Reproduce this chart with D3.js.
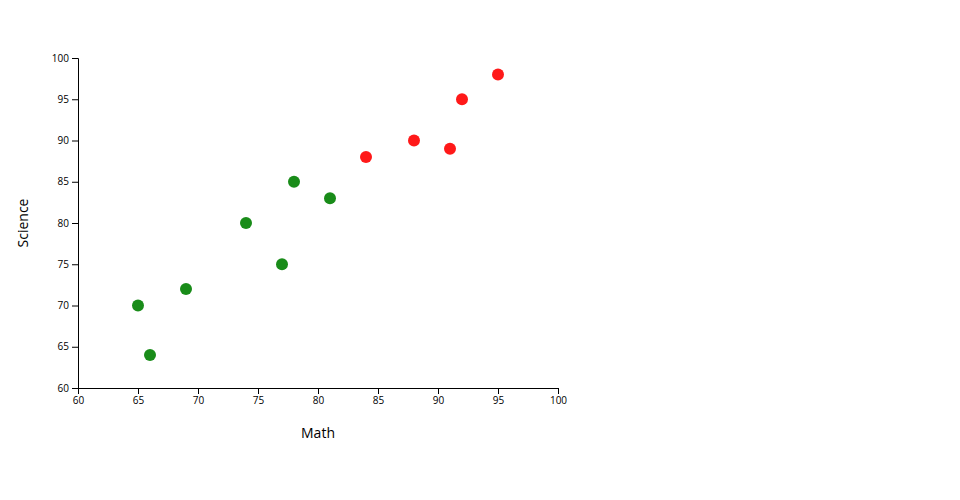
<!DOCTYPE html>
<html><head><meta charset="utf-8">
<script src="https://cdn.jsdelivr.net/npm/d3@7"></script>
<style>body{margin:0;background:#fff;font-family:"Open Sans",sans-serif;} text{font-family:"Open Sans",sans-serif;}</style>
</head><body>
<script>
const math = [65, 66, 69, 74, 77, 78, 81, 84, 88, 91, 92, 95];
const science = [70, 64, 72, 80, 75, 85, 83, 88, 90, 89, 95, 98];
const group = ["low","low","low","low","low","low","low","high","high","high","high","high"];
const xDomain = [60, 100];
const yDomain = [60, 100];

const width = 960, height = 500;
const margin = {top: 58, left: 78};
const innerW = 480, innerH = 330;
const svg = d3.select("body").append("svg").attr("width", width).attr("height", height);
const g = svg.append("g").attr("transform", `translate(${margin.left},${margin.top})`);
const x = d3.scaleLinear().domain(xDomain).range([0, innerW]);
const y = d3.scaleLinear().domain(yDomain).range([innerH, 0]);
g.append("g").attr("transform", `translate(0,${innerH})`).call(d3.axisBottom(x).ticks(8))
  .call(a => a.selectAll("text").style("font-family", "Open Sans"));
g.append("g").call(d3.axisLeft(y).ticks(8))
  .call(a => a.selectAll("text").style("font-family", "Open Sans"));
const data = math.map((m, i) => ({m, s: science[i], grp: group[i]}));
g.selectAll("circle").data(data).join("circle")
  .attr("cx", d => x(d.m)).attr("cy", d => y(d.s)).attr("r", 6)
  .attr("fill", d => d.grp === "high" ? "red" : "green").attr("opacity", 0.9);
svg.append("text").attr("x", margin.left + innerW / 2).attr("y", 438)
  .attr("text-anchor", "middle").style("font-size", "14px").text("Math");
svg.append("text").attr("transform", `translate(28,${margin.top + innerH / 2}) rotate(-90)`)
  .attr("text-anchor", "middle").style("font-size", "14px").text("Science");
</script>
</body></html>
